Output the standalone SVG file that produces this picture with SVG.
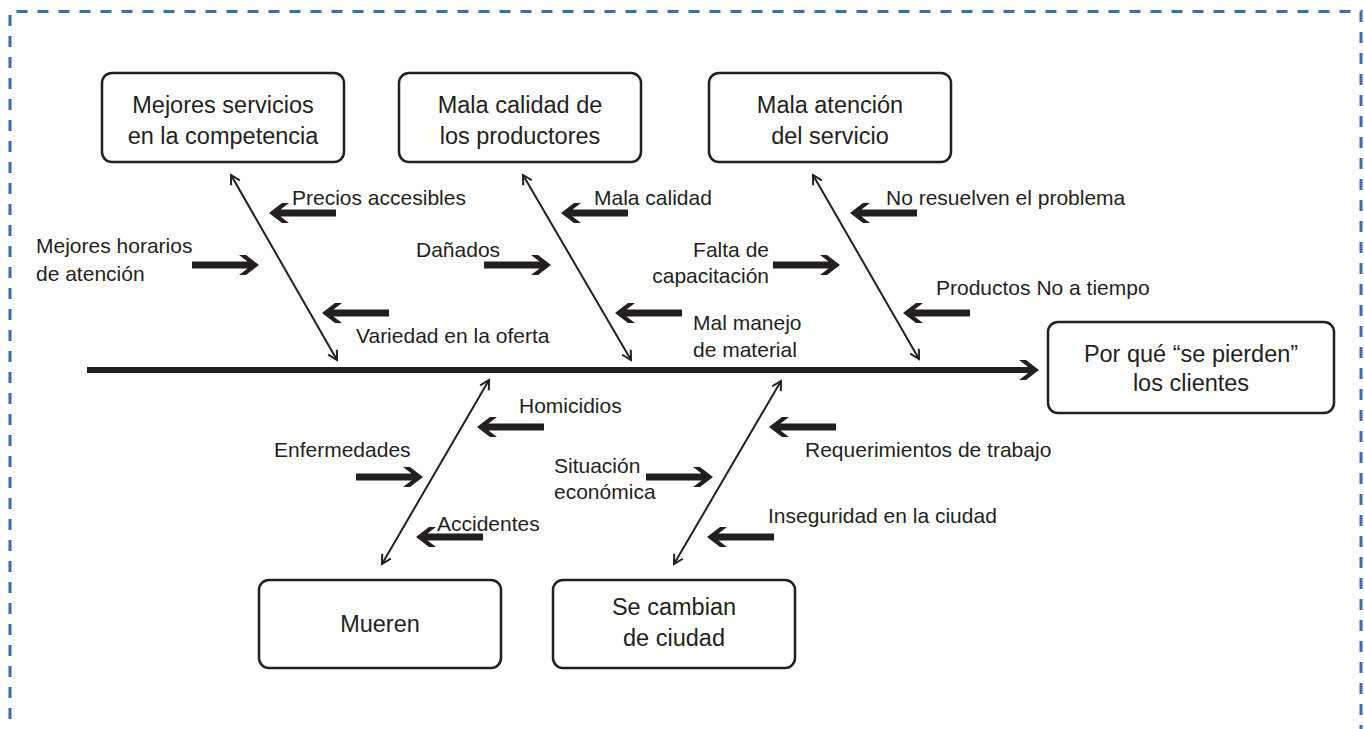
<svg xmlns="http://www.w3.org/2000/svg" xmlns:xlink="http://www.w3.org/1999/xlink" width="1364" height="729" viewBox="0 0 1364 729">
<style>
text{font-family:"Liberation Sans",Arial,sans-serif;fill:#231f20}
.lbl{font-size:21px}
.box{font-size:23.5px;text-anchor:middle}
.nb{fill:#fff;stroke:#231f20;stroke-width:2.5}
.bone{stroke:#231f20;stroke-width:2;fill:none;marker-start:url(#tip);marker-end:url(#tip)}
.ar{fill:#231f20}
</style>
<defs>
<marker id="tip" viewBox="-11 -7 13 14" markerWidth="13" markerHeight="14" refX="0" refY="0" orient="auto-start-reverse" markerUnits="userSpaceOnUse">
<path d="M-9,-5 L0,0 L-9,5" fill="none" stroke="#231f20" stroke-width="2"/>
</marker>
<path id="arL" d="M0,0 L13,-10 L20,-10 L11.5,-3.5 L67,-3.5 L67,3.5 L11.5,3.5 L20,10 L13,10 Z"/>
</defs>
<rect width="1364" height="729" fill="#fff"/>
<path d="M10,740 L10,11.5 L1361,11.5 L1361,740" fill="none" stroke="#3b6cb7" stroke-width="3" stroke-dasharray="11 10"/>

<g id="connectors">
<line x1="87" y1="370" x2="1030" y2="370" stroke="#231f20" stroke-width="6"/>
<path class="ar" d="M1039,370 L1026,360 L1019,360 L1027.5,366.5 L1027.5,373.5 L1019,380 L1026,380 Z"/>
<line class="bone" x1="231" y1="175" x2="337" y2="360"/>
<line class="bone" x1="523" y1="175" x2="631" y2="360"/>
<line class="bone" x1="813" y1="175" x2="919" y2="359"/>
<line class="bone" x1="489" y1="380" x2="382" y2="564"/>
<line class="bone" x1="781" y1="381" x2="674" y2="564"/>
<g class="ar">
<use xlink:href="#arL" transform="translate(269,213)"/>
<use xlink:href="#arL" transform="translate(322,313)"/>
<use xlink:href="#arL" transform="translate(561,213)"/>
<use xlink:href="#arL" transform="translate(615,313)"/>
<use xlink:href="#arL" transform="translate(850,213)"/>
<use xlink:href="#arL" transform="translate(903,313)"/>
<use xlink:href="#arL" transform="translate(477,427)"/>
<use xlink:href="#arL" transform="translate(416,537)"/>
<use xlink:href="#arL" transform="translate(769,427)"/>
<use xlink:href="#arL" transform="translate(707,537)"/>
<use xlink:href="#arL" transform="translate(259,265) scale(-1,1)"/>
<use xlink:href="#arL" transform="translate(551,265) scale(-1,1)"/>
<use xlink:href="#arL" transform="translate(840,265) scale(-1,1)"/>
<use xlink:href="#arL" transform="translate(423,477) scale(-1,1)"/>
<use xlink:href="#arL" transform="translate(713,477) scale(-1,1)"/>
</g>
</g>

<g id="n-competencia">
<rect class="nb" x="102" y="73" width="242" height="89" rx="10"/>
<text class="box" x="223" y="113">Mejores servicios</text>
<text class="box" x="223" y="144">en la competencia</text>
</g>
<g id="n-calidad">
<rect class="nb" x="399" y="73" width="242" height="89" rx="10"/>
<text class="box" x="520" y="113">Mala calidad de</text>
<text class="box" x="520" y="144">los productores</text>
</g>
<g id="n-atencion">
<rect class="nb" x="709" y="73" width="242" height="89" rx="10"/>
<text class="box" x="830" y="113">Mala atención</text>
<text class="box" x="830" y="144">del servicio</text>
</g>
<g id="n-efecto">
<rect class="nb" x="1048" y="322" width="286" height="91" rx="10"/>
<text class="box" x="1191" y="362">Por qué “se pierden”</text>
<text class="box" x="1191" y="391">los clientes</text>
</g>
<g id="n-mueren">
<rect class="nb" x="259" y="580" width="242" height="88" rx="10"/>
<text class="box" x="380" y="632">Mueren</text>
</g>
<g id="n-cambian">
<rect class="nb" x="553" y="580" width="242" height="88" rx="10"/>
<text class="box" x="674" y="615">Se cambian</text>
<text class="box" x="674" y="646">de ciudad</text>
</g>

<g id="labels">
<text class="lbl" x="292" y="205">Precios accesibles</text>
<text class="lbl" x="36" y="253">Mejores horarios</text>
<text class="lbl" x="36" y="281">de atención</text>
<text class="lbl" x="356" y="343">Variedad en la oferta</text>
<text class="lbl" x="416" y="257">Dañados</text>
<text class="lbl" x="594" y="205">Mala calidad</text>
<text class="lbl" x="693" y="330">Mal manejo</text>
<text class="lbl" x="693" y="357">de material</text>
<text class="lbl" x="769" y="257" text-anchor="end">Falta de</text>
<text class="lbl" x="769" y="283" text-anchor="end">capacitación</text>
<text class="lbl" x="886" y="205">No resuelven el problema</text>
<text class="lbl" x="936" y="295">Productos No a tiempo</text>
<text class="lbl" x="519" y="413">Homicidios</text>
<text class="lbl" x="274" y="457">Enfermedades</text>
<text class="lbl" x="437" y="531">Accidentes</text>
<text class="lbl" x="805" y="457">Requerimientos de trabajo</text>
<text class="lbl" x="554" y="473">Situación</text>
<text class="lbl" x="554" y="499">económica</text>
<text class="lbl" x="768" y="523">Inseguridad en la ciudad</text>
</g>
</svg>
